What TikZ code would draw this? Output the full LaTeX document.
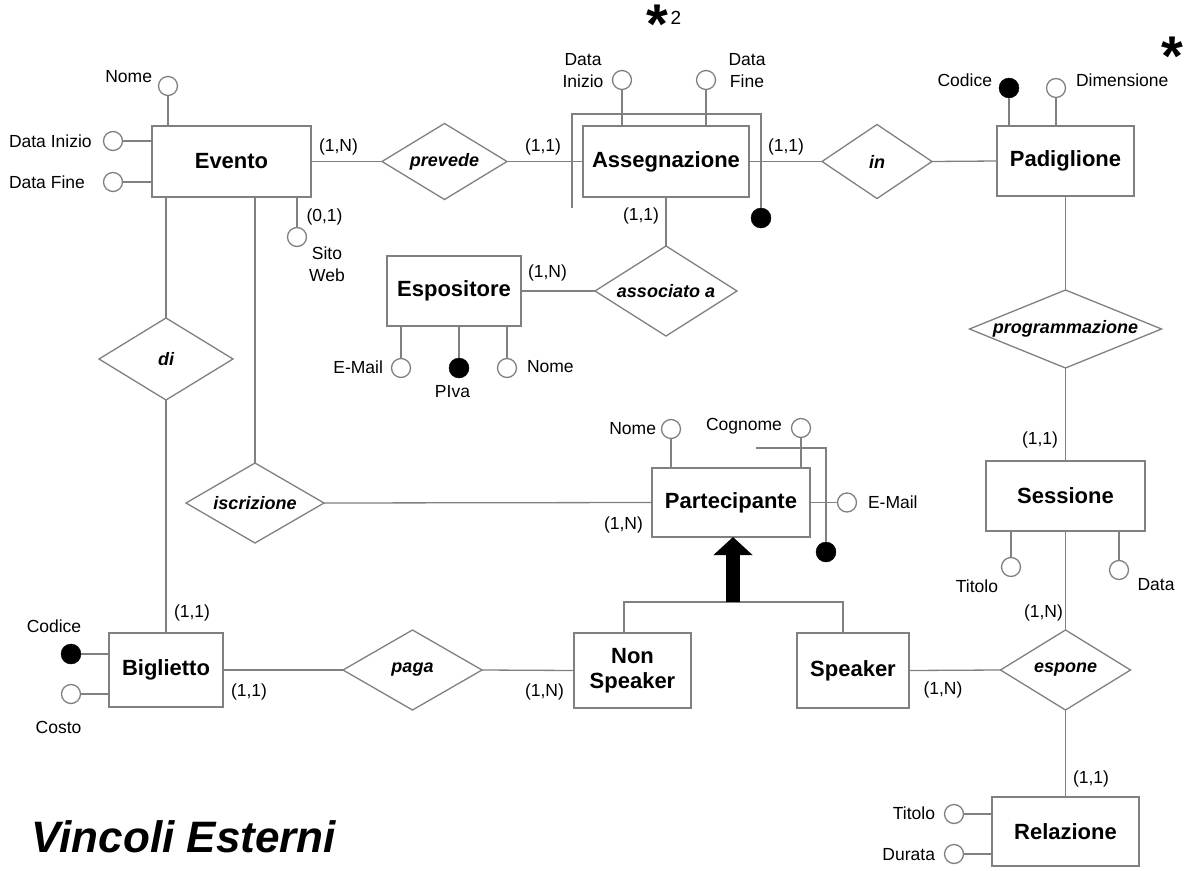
\documentclass[tikz,border=0pt]{standalone}
\usepackage{fontspec}
\setmainfont{Liberation Sans}
\usetikzlibrary{shapes.geometric,arrows.meta}
\definecolor{lc}{HTML}{808080}
\begin{document}
\begin{tikzpicture}[x=1bp,y=-1bp,
  every node/.style={inner sep=0pt, outer sep=0pt},
  line/.style={draw=lc, line width=1.3bp},
  ent/.style={rectangle, draw=lc, line width=1.3bp, fill=white, font=\fontsize{22bp}{25bp}\selectfont\bfseries, align=center},
  rel/.style={diamond, draw=lc, line width=1.3bp, fill=white, font=\fontsize{18bp}{20bp}\selectfont\bfseries\itshape},
  att/.style={circle, draw=lc, line width=1.3bp, fill=white, minimum size=19bp},
  key/.style={circle, draw=black, fill=black, minimum size=20bp},
  lbl/.style={font=\fontsize{17.5bp}{22bp}\selectfont, align=center},
  big/.style={font=\fontsize{44bp}{48bp}\selectfont\bfseries\itshape},
  star/.style={font=\fontsize{56bp}{56bp}\selectfont\bfseries},
]
\fill[white] (0,0) rectangle (1185,871);
\useasboundingbox (0,0) rectangle (1185,871);

% entities
\node[ent, minimum width=159bp, minimum height=71bp] (ev) at (231.5,161.5) {Evento};
\node[ent, minimum width=166bp, minimum height=71bp] (as) at (666,161.5) {Assegnazione};
\node[ent, minimum width=137bp, minimum height=70bp] (pad) at (1065.5,161) {Padiglione};
\node[ent, minimum width=134bp, minimum height=70bp] (esp) at (454,291) {Espositore};
\node[ent, minimum width=158bp, minimum height=69bp] (part) at (731,502.5) {Partecipante};
\node[ent, minimum width=159bp, minimum height=70bp] (ses) at (1065.5,496) {Sessione};
\node[ent, minimum width=114bp, minimum height=74bp] (bigl) at (166,670) {Biglietto};
\node[ent, minimum width=117bp, minimum height=75bp] (ns) at (632.5,670.5) {Non\\Speaker};
\node[ent, minimum width=112bp, minimum height=75bp] (sp) at (853,670.5) {Speaker};
\node[ent, minimum width=147bp, minimum height=69bp] (rela) at (1065.5,831.5) {Relazione};

% relationships
\node[rel, aspect=1.64, minimum width=125bp, minimum height=76bp] (prev) at (444.5,161.5) {prevede};
\node[rel, aspect=1.49, minimum width=110bp, minimum height=74bp] (inr) at (877,161.5) {in};
\node[rel, aspect=1.58, minimum width=142bp, minimum height=90bp] (asc) at (666,291) {associato a};
\node[rel, aspect=2.46, minimum width=192bp, minimum height=78bp] (prog) at (1065.5,329) {programmazione};
\node[rel, aspect=1.63, minimum width=134bp, minimum height=82bp] (di) at (166,359) {di};
\node[rel, aspect=1.72, minimum width=138bp, minimum height=80bp] (iscr) at (255,503) {iscrizione};
\node[rel, aspect=1.74, minimum width=139bp, minimum height=80bp] (paga) at (412.5,670) {paga};
\node[rel, aspect=1.63, minimum width=130bp, minimum height=80bp] (espo) at (1065.5,670) {espone};

% relationship connectors
\draw[line] (ev.east) -- (prev.west);
\draw[line] (prev.east) -- (as.west);
\draw[line] (as.east) -- (inr.west);
\draw[line] (inr.east) -- (pad.west);
\draw[line] (as.south) -- (asc.north);
\draw[line] (esp.east) -- (asc.west);
\draw[line] (pad.south) -- (prog.north);
\draw[line] (prog.south) -- (ses.north);
\draw[line] (ses.south) -- (espo.north);
\draw[line] (espo.south) -- (rela.north);
\draw[line] (sp.east) -- (espo.west);
\draw[line] (ev.south -| di.north) -- (di.north);
\draw[line] (di.south) -- (bigl.north);
\draw[line] (ev.south -| iscr.north) -- (iscr.north);
\draw[line] (iscr.east) -- (part.west);
\draw[line] (bigl.east) -- (paga.west);
\draw[line] (paga.east) -- (ns.west);

% generalization
\coordinate (gen) at (733,602);
\draw[line] ([xshift=-8.5bp]ns.north) |- (gen) -| ([xshift=-10bp]sp.north);
\draw[line width=14bp, draw=black, -{Triangle[width=38bp,length=18bp]}] (gen) -- (gen |- part.south);

% attributes: Evento
\node[att] (evNome) at (168,86) {};
\node[att] (evDI) at (113,141) {};
\node[att] (evDF) at (113,182) {};
\node[att] (evSW) at (297,237) {};
\draw[line] (evNome) -- (evNome |- ev.north);
\draw[line] (evDI) -- (evDI -| ev.west);
\draw[line] (evDF) -- (evDF -| ev.west);
\draw[line] (evSW |- ev.south) -- (evSW);

% Assegnazione
\node[att] (asDI) at (622,80) {};
\node[att] (asDF) at (706,80) {};
\node[key] (asKey) at (761,218) {};
\draw[line] (asDI) -- (asDI |- as.north);
\draw[line] (asDF) -- (asDF |- as.north);
\coordinate (asBL) at (572,208);
\coordinate (asTR) at (761,114);
\draw[line] (asBL) |- (asTR) -- (asKey.north);

% Padiglione
\node[key] (paCod) at (1009,88) {};
\node[att] (paDim) at (1056,88) {};
\draw[line] (paCod) -- (paCod |- pad.north);
\draw[line] (paDim) -- (paDim |- pad.north);

% Espositore
\node[att] (esMail) at (401,368) {};
\node[key] (esPI) at (459,368) {};
\node[att] (esNome) at (507,368) {};
\draw[line] (esMail |- esp.south) -- (esMail);
\draw[line] (esPI |- esp.south) -- (esPI);
\draw[line] (esNome |- esp.south) -- (esNome);

% Partecipante
\node[att] (ptNome) at (671,429) {};
\node[att] (ptCog) at (801,428) {};
\node[att] (ptMail) at (847,502.5) {};
\node[key] (ptKey) at (826,552) {};
\draw[line] (ptNome) -- (ptNome |- part.north);
\draw[line] (ptCog) -- (ptCog |- part.north);
\draw[line] (part.east) -- (ptMail);
\coordinate (ptK1) at (756,448);
\draw[line] (ptK1) -| (ptKey.north);

% Sessione
\node[att] (seTit) at (1011,567) {};
\node[att] (seData) at (1119,570) {};
\draw[line] (seTit |- ses.south) -- (seTit);
\draw[line] (seData |- ses.south) -- (seData);

% Biglietto
\node[key] (biCod) at (71,654) {};
\node[att] (biCosto) at (71,694) {};
\draw[line] (biCod) -- (biCod -| bigl.west);
\draw[line] (biCosto) -- (biCosto -| bigl.west);

% Relazione
\node[att] (reTit) at (954,814) {};
\node[att] (reDur) at (954,854) {};
\draw[line] (reTit) -- (reTit -| rela.west);
\draw[line] (reDur) -- (reDur -| rela.west);

% labels
\node[lbl, anchor=east] (lEvNome) at (152,77) {Nome};
\node[lbl, anchor=west] (lEvDI) at (9,141) {Data Inizio};
\node[lbl, anchor=west] (lEvDF) at (9,182) {Data Fine};
\node[lbl] (lEvCard) at (338.5,147) {(1,N)};
\node[lbl] (lEvSWc) at (324.5,217) {(0,1)};
\node[lbl] (lEvSW) at (327,264) {Sito\\Web};

\node[lbl] (lAsDI) at (583,71) {Data\\Inizio};
\node[lbl] (lAsDF) at (747,71) {Data\\Fine};
\node[lbl] (lAsL) at (543,147) {(1,1)};
\node[lbl] (lAsR) at (786,147) {(1,1)};
\node[lbl] (lAsB) at (641,216) {(1,1)};
\node[star] (star2) at (657,24) {*};
\node[font=\fontsize{19bp}{20bp}\selectfont] (two) at (676,18) {2};

\node[lbl, anchor=east] (lPaCod) at (992,80) {Codice};
\node[lbl, anchor=west] (lPaDim) at (1076,80) {Dimensione};
\node[star] (star1) at (1172,56) {*};

\node[lbl] (lEspC) at (547.5,273) {(1,N)};
\node[lbl, anchor=east] (lEsMail) at (383,367) {E-Mail};
\node[lbl] (lEsPI) at (452.5,392) {PIva};
\node[lbl, anchor=west] (lEsNome) at (527,367) {Nome};

\node[lbl] (lSesT) at (1040,440) {(1,1)};
\node[lbl] (lSeTit) at (977,586) {Titolo};
\node[lbl] (lSeData) at (1156,585) {Data};
\node[lbl] (lSesB) at (1043.5,613) {(1,N)};

\node[lbl, anchor=east] (lPtNome) at (656,429) {Nome};
\node[lbl] (lPtCog) at (744,426) {Cognome};
\node[lbl, anchor=west] (lPtMail) at (868,502) {E-Mail};
\node[lbl] (lPtC) at (623.5,525) {(1,N)};

\node[lbl] (lBiT) at (192,613) {(1,1)};
\node[lbl] (lBiCod) at (54,626) {Codice};
\node[lbl] (lBiCosto) at (58.5,727) {Costo};
\node[lbl] (lBiR) at (249,692) {(1,1)};
\node[lbl] (lNsC) at (544.5,692) {(1,N)};
\node[lbl] (lSpC) at (943,690) {(1,N)};

\node[lbl] (lReT) at (1091,779) {(1,1)};
\node[lbl, anchor=east] (lReTit) at (935,813) {Titolo};
\node[lbl, anchor=east] (lReDur) at (935,855) {Durata};

\node[big] (vinc) at (184,837) {Vincoli Esterni};
\end{tikzpicture}
\end{document}
